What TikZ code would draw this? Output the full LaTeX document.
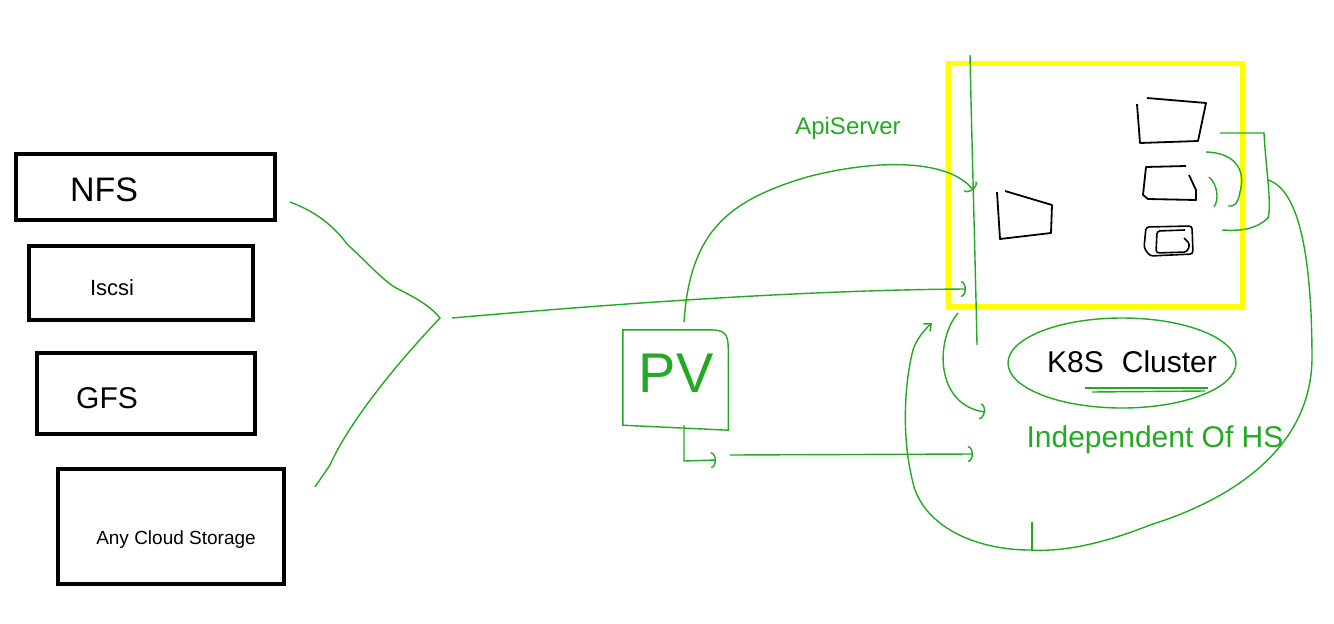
\documentclass[tikz,border=0pt]{standalone}
\usepackage{fontspec}
\setmainfont{Liberation Sans}
\usetikzlibrary{arrows.meta,shapes.geometric}
\definecolor{pen}{RGB}{34,170,34}
\definecolor{hl}{RGB}{255,255,0}
\begin{document}
\begin{tikzpicture}[x=1pt,y=-1pt,
  sbox/.style={draw=black,line width=4.5pt,minimum width=#1,inner sep=0pt},
  glink/.style={draw=pen,line width=1.4pt},
  garrow/.style={glink,-{Arc Barb[length=5pt,width=16pt]}},
  ink/.style={draw=black,line width=1.8pt,line join=round},
  btxt/.style={inner sep=0pt,text=black},
  gtxt/.style={inner sep=0pt,text=pen}]
\path[use as bounding box] (0,0) rectangle (1334,624);

% storage boxes
\node[sbox=259pt,minimum height=66pt] (nfs) at (145.5,187) {};
\node[btxt,font=\fontsize{34}{38}\selectfont] (nfst) at (104,190) {NFS};
\node[sbox=224pt,minimum height=74pt] (iscsi) at (141,283) {};
\node[btxt,font=\fontsize{22}{26}\selectfont] (iscsit) at (112,288) {Iscsi};
\node[sbox=218pt,minimum height=81pt] (gfs) at (146,393.5) {};
\node[btxt,font=\fontsize{30}{34}\selectfont] (gfst) at (107,398) {GFS};
\node[sbox=226pt,minimum height=115pt] (cloud) at (171,526.5) {};
\node[btxt,font=\fontsize{19}{22}\selectfont] (cloudt) at (176,540) {Any Cloud Storage};

% bracket joining storage
\coordinate (b1) at (290,202);
\coordinate (bj) at (440,318);
\coordinate (b2) at (315,487);
\coordinate (bs) at (452,318);
\draw[glink] (b1) .. controls (325,215) and (340,235) .. (348,245)
  .. controls (370,265) and (385,283) .. (400,290)
  .. controls (420,300) and (432,308) .. (bj)
  .. controls (400,360) and (350,420) .. (330,465) -- (b2);

% yellow cluster box
\node[draw=hl,line width=5pt,minimum width=294pt,minimum height=243pt,inner sep=0pt] (k8sbox) at (1095,184.5) {};
\coordinate (api) at (973,190);
\coordinate (volin) at (966,289);
\draw[garrow] (bs) .. controls (600,305) and (800,290) .. (volin);

% green vertical line through box
\draw[glink] (970,55) .. controls (972,150) and (975,250) .. (977,345);

% black shapes in box
\draw[ink] (1005,191) -- (1052,205) -- (1051,233) -- (1000,239) -- (997,192);
\draw[ink] (1147,98) -- (1206,103) -- (1198,141) -- (1140,143) -- (1137,104);
\draw[ink] (1186,166) -- (1146,167) -- (1143,195) -- (1148,199) -- (1196,200) -- (1196,190) -- (1189,175);
\draw[ink,line width=1.6pt,rounded corners=3pt] (1146,227) -- (1192,226) -- (1193,254) -- (1150,256) -- (1144,248) -- cycle;
\draw[ink,line width=1.6pt,rounded corners=3pt] (1185,230) -- (1157,231) -- (1156,253) -- (1187,252) -- (1190,244) -- (1184,238);

% green brackets on the right
\draw[glink] (1220,133) -- (1264,133) .. controls (1266,170) and (1272,205) .. (1268,218)
  .. controls (1255,230) and (1240,231) .. (1222,230);
\draw[glink] (1206,152) .. controls (1240,153) and (1245,175) .. (1240,192)
  .. controls (1238,204) and (1234,207) .. (1228,206);
\draw[glink] (1209,177) .. controls (1218,185) and (1219,200) .. (1214,207);

% big loop to the cluster
\coordinate (loopin) at (932,323);
\draw[glink,-{Straight Barb[length=6pt,width=10pt]}] (1268,180) .. controls (1300,190) and (1312,260) .. (1312,360)
  .. controls (1310,450) and (1230,500) .. (1150,525)
  .. controls (1100,545) and (1060,552) .. (1030,550)
  .. controls (980,550) and (930,530) .. (915,490)
  .. controls (900,440) and (905,380) .. (913,350)
  .. controls (916,340) and (924,330) .. (loopin);
\draw[glink] (1032,522) -- (1032,550);

% K8S cluster ellipse
\node[ellipse,draw=pen,line width=1.4pt,minimum width=228pt,minimum height=90pt,inner sep=0pt] (cl) at (1122,363) {};
\node[btxt,font=\fontsize{30}{34}\selectfont] (clt) at (1132,362) {K8S\hspace{18pt}Cluster};
\draw[glink] (1085,388) -- (1208,388);
\draw[glink] (1092,392) -- (1205,391);
\node[gtxt,font=\fontsize{30}{34}\selectfont] (indep) at (1155,440) {Independent Of HS};

% small arc arrow under the box
\coordinate (a1) at (958,313);
\coordinate (a2) at (985,412);
\draw[garrow] (a1) .. controls (935,340) and (935,405) .. (a2);

% PV
\node[minimum width=105pt,minimum height=95pt,inner sep=0pt] (pv) at (675.5,377.5) {};
\draw[glink] (pv.north west) -- ([xshift=-18pt]pv.north east) .. controls ([xshift=-4pt]pv.north east) and ([yshift=-4pt]pv.north east) .. ([yshift=-18pt]pv.north east) -- ([yshift=-5pt]pv.south east) -- (pv.south west) -- cycle;
\node[gtxt,font=\fontsize{56}{60}\selectfont] (pvt) at (676,373) {PV};

% PV to ApiServer
\coordinate (pvtop) at (684,322);
\draw[garrow] (pvtop) .. controls (690,230) and (730,200) .. (807,177)
  .. controls (880,158) and (950,160) .. (api);
\node[gtxt,font=\fontsize{24}{28}\selectfont] (apit) at (848,128) {ApiServer};

% PV bottom arrows
\coordinate (pvb) at (684,425);
\coordinate (pvh) at (716,460);
\coordinate (l1) at (730,455);
\coordinate (l2) at (973,454);
\draw[garrow] (pvb) -- (684,461) -- (pvh);
\draw[garrow] (l1) -- (l2);
\end{tikzpicture}
\end{document}
